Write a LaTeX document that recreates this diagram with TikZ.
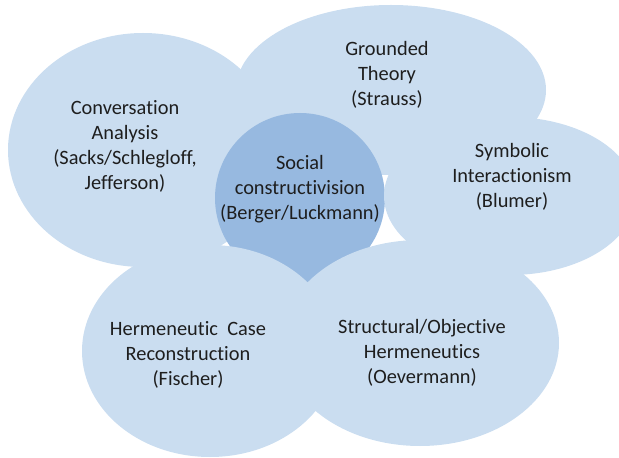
\documentclass[tikz,border=0pt]{standalone}
\usepackage{fontspec}
\setmainfont[Ligatures={NoCommon,NoContextual}]{Carlito}
\usepackage{tikz}
\usetikzlibrary{positioning}
\definecolor{bubblue}{RGB}{202,221,240}
\definecolor{coreblue}{RGB}{151,185,224}
\definecolor{inktext}{RGB}{30,30,30}

\begin{document}
\begin{tikzpicture}[x=0.03cm, y=-0.03cm,
  bubble/.style={fill=bubblue},
  core/.style={fill=coreblue},
  txt/.style={align=center, text=inktext, inner sep=0pt, font=\fontsize{17.4}{21.3}\selectfont}]

\clip (0,0) rectangle (619,458);

%Bubbles
\fill[bubble] (143,150) ellipse (135 and 117);
\fill[bubble] (391,90)  ellipse (155 and 85);
\fill[core]   (300,198) circle  (85);
\fill[bubble] (510,196) ellipse (126 and 79);
\fill[bubble] (210,351) ellipse (128 and 106);
\fill[bubble] (420,343) ellipse (139 and 103);

%Texts
\node[txt] (conv)   at (125,146) {Conversation\\Analysis\\(Sacks/Schlegloff,\\Jefferson)};
\node[txt] (ground) at (387,75)  {Grounded\\Theory\\(Strauss)};
\node[txt] (social) at (300,189) {Social\\constructivision\\(Berger/Luckmann)};
\node[txt] (symb)   at (512,177) {Symbolic\\Interactionism\\(Blumer)};
\node[txt] (herm)   at (188,355) {Hermeneutic~ Case\\Reconstruction\\(Fischer)};
\node[txt] (struct) at (422,353) {Structural/Objective\\Hermeneutics\\(Oevermann)};

\end{tikzpicture}
\end{document}
